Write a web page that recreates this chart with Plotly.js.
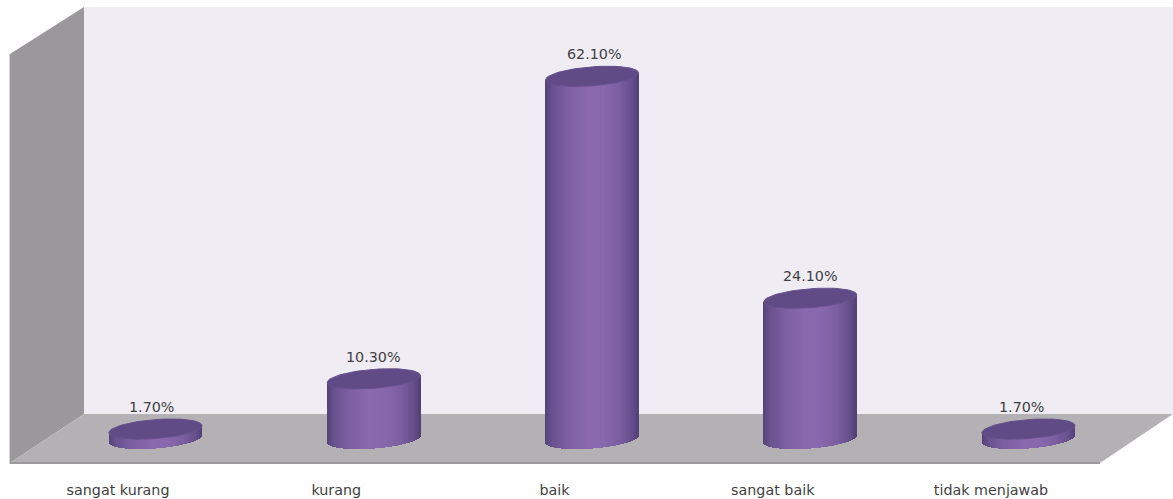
<!DOCTYPE html>
<html>
<head>
<meta charset="utf-8">
<script src="https://cdn.plot.ly/plotly-3.0.1.min.js"></script>
<style>html,body{margin:0;padding:0;background:#fff;overflow:hidden}</style>
</head>
<body>
<div id="chart" style="width:1173px;height:499px"></div>
<script>
// Survey responses, percent per answer
const categories = ["sangat kurang", "kurang", "baik", "sangat baik", "tidak menjawab"];
const percentages = [1.7, 10.3, 62.1, 24.1, 1.7];
const valueLabels = ["1.70%", "10.30%", "62.10%", "24.10%", "1.70%"];
const labelNudge = [-4, 0, 2, 0, -7];

// Canvas geometry in pixels
const W = 1173, H = 499, plotH = 474;
const step = 218.25;          // distance between neighbouring columns
const firstColumn = 155.5;    // centre of the first cylinder
const firstTick = 118;        // category labels sit on the front edge of the floor
const baseline = 439;         // pixel row of value 0
const pxPerUnit = 5.84;

// Cylinder proportions in pixels
const radiusX = 46.5, radiusY = 9.5, tilt = 3.5, stripPx = 1;

const toPaper = ([x, y]) => [x / W, 1 - y / plotH];
const polygon = (pts, fill, line) => ({
  type: "path", xref: "paper", yref: "paper", layer: "below",
  path: pts.map(toPaper).map((p, i) => (i ? "L" : "M") + p[0] + "," + p[1]).join(" ") + " Z",
  fillcolor: fill, line: line || {width: 0}
});

const shapes = [
  polygon([[84, 7], [1173, 7], [1173, 414], [84, 414]], "#efecf3"),
  polygon([[10, 54], [84, 7], [84, 414], [10, 463]], "#9b989b"),
  polygon([[84, 414], [1173, 414], [1100, 463], [10, 463]], "#b3b1b3"),
  polygon([[10, 462], [1100, 462], [1100, 464], [10, 464]], "#9c9b9c"),
  polygon([[9, 54], [10, 54], [10, 464], [9, 464]], "#d6d5d6")
];

// Horizontal shading of the cylinder wall, from left rim to right rim
const shadeStops = [
  [-1.0, [84, 66, 120]], [-0.85, [104, 82, 142]], [-0.55, [122, 94, 160]],
  [-0.1, [138, 105, 174]], [0.25, [136, 104, 172]], [0.6, [122, 94, 160]],
  [0.88, [100, 78, 138]], [1.0, [82, 64, 118]]
];
function shade(t) {
  for (let i = 1; i < shadeStops.length; i++) {
    if (t <= shadeStops[i][0]) {
      const [a, ca] = shadeStops[i - 1], [b, cb] = shadeStops[i];
      const f = (t - a) / (b - a);
      return "rgb(" + ca.map((c, k) => Math.round(c + (cb[k] - c) * f)).join(",") + ")";
    }
  }
  return "rgb(82,64,118)";
}

const traces = [];

// Wall of each cylinder: narrow bars running from the lower rim up to the top face
percentages.forEach((value, idx) => {
  const xs = [], bases = [], heights = [], colors = [];
  for (let dx = -radiusX + stripPx / 2; dx < radiusX; dx += stripPx) {
    const t = dx / radiusX;
    const lift = tilt * t / pxPerUnit;
    const sag = radiusY * Math.sqrt(1 - t * t) / pxPerUnit;
    xs.push(idx + dx / step);
    bases.push(lift - sag);
    heights.push(value + sag);
    colors.push(shade(t));
  }
  traces.push({
    type: "bar", xaxis: "x2", yaxis: "y", x: xs, y: heights, base: bases, opacity: 1,
    width: stripPx / step, marker: {color: colors, opacity: 1, line: {width: 0}},
    hoverinfo: "skip", showlegend: false
  });
});

// Top face of each cylinder
percentages.forEach((value, idx) => {
  const xs = [], ys = [];
  for (let a = 0; a <= 72; a++) {
    const th = a / 72 * 2 * Math.PI;
    xs.push(idx + radiusX * Math.cos(th) / step);
    ys.push(value + (radiusY * Math.sin(th) + tilt * Math.cos(th)) / pxPerUnit);
  }
  traces.push({
    type: "scatter", mode: "lines", xaxis: "x2", yaxis: "y", x: xs, y: ys,
    fill: "toself", fillcolor: "#604b86", line: {color: "#66518d", width: 1},
    hoverinfo: "skip", showlegend: false
  });
});

// Keeps the category axis attached to the plot area
traces.push({
  type: "scatter", mode: "markers", xaxis: "x", yaxis: "y",
  x: categories.map((_, i) => i), y: percentages,
  marker: {opacity: 0, size: 1}, hoverinfo: "skip", showlegend: false
});

const annotations = percentages.map((value, i) => ({
  xref: "x2", yref: "y", x: i, y: value, text: valueLabels[i],
  showarrow: false, yanchor: "middle", xanchor: "center",
  xshift: labelNudge[i], yshift: 22,
  font: {family: "DejaVu Sans", size: 14.3, color: "#3f3f42"}
}));

const layout = {
  width: W, height: H,
  margin: {l: 0, r: 0, t: 0, b: H - plotH, pad: 0},
  paper_bgcolor: "#ffffff", plot_bgcolor: "#ffffff",
  barmode: "overlay", bargap: 0, bargroupgap: 0, showlegend: false,
  shapes, annotations,
  xaxis: {
    range: [-firstTick / step, (W - firstTick) / step],
    tickmode: "array", tickvals: categories.map((_, i) => i), ticktext: categories,
    tickfont: {family: "DejaVu Sans", size: 14.3, color: "#3f3f42"},
    ticks: "", showgrid: false, zeroline: false, showline: false, fixedrange: true,
    tickangle: 0, ticklabelstandoff: 6
  },
  xaxis2: {
    overlaying: "x", side: "bottom", visible: false, fixedrange: true,
    range: [-firstColumn / step, (W - firstColumn) / step]
  },
  yaxis: {
    visible: false, fixedrange: true, showgrid: false, zeroline: false,
    range: [(baseline - plotH) / pxPerUnit, baseline / pxPerUnit]
  }
};

Plotly.newPlot("chart", traces, layout, {displayModeBar: false});
</script>
</body>
</html>
